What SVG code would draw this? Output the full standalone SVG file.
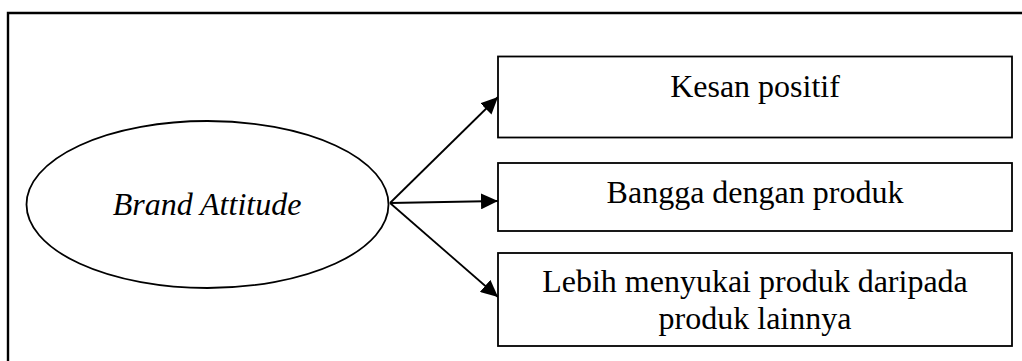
<svg xmlns="http://www.w3.org/2000/svg" width="1022" height="361" viewBox="0 0 1022 361">
<style>
  .frame { fill: none; stroke: #000; stroke-width: 2.4; }
  .box { fill: #fff; stroke: #000; stroke-width: 1.8; }
  .edge { fill: none; stroke: #000; stroke-width: 1.8; }
  .lbl { font-family: "Liberation Serif", "Times New Roman", serif; font-size: 32px; fill: #000; text-anchor: middle; }
  .it { font-style: italic; }
</style>
<defs>
  <marker id="arr" markerUnits="userSpaceOnUse" markerWidth="18" markerHeight="16" refX="17" refY="8" orient="auto">
    <path d="M0,0 L17,8 L0,16 z" fill="#000"/>
  </marker>
</defs>
<rect width="1022" height="361" fill="#fff"/>
<path class="frame" d="M8,362 V13 H1023"/>
<g id="connectors">
  <line class="edge" x1="390" y1="203" x2="498" y2="97" marker-end="url(#arr)"/>
  <line class="edge" x1="390" y1="203" x2="498" y2="201" marker-end="url(#arr)"/>
  <line class="edge" x1="390" y1="203" x2="498" y2="297" marker-end="url(#arr)"/>
</g>
<g id="brand-attitude">
  <ellipse class="box" cx="207.5" cy="204.5" rx="181" ry="83.5"/>
  <text class="lbl it" x="207" y="215">Brand Attitude</text>
</g>
<g id="kesan-positif">
  <rect class="box" x="498" y="56.5" width="514" height="81"/>
  <text class="lbl" x="755" y="97">Kesan positif</text>
</g>
<g id="bangga">
  <rect class="box" x="498" y="163" width="514" height="68"/>
  <text class="lbl" x="755" y="203">Bangga dengan produk</text>
</g>
<g id="lebih-menyukai">
  <rect class="box" x="498" y="253" width="514" height="93"/>
  <text class="lbl" x="755" y="292">Lebih menyukai produk daripada</text>
  <text class="lbl" x="755" y="329">produk lainnya</text>
</g>
</svg>
